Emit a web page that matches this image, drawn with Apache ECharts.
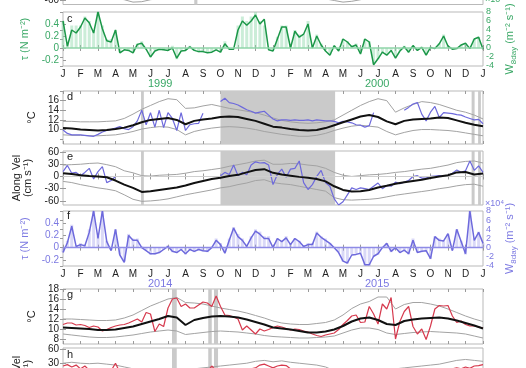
<!DOCTYPE html>
<html><head><meta charset="utf-8">
<script src="https://cdn.jsdelivr.net/npm/echarts@6/dist/echarts.min.js"></script>
<style>html,body{margin:0;padding:0;background:#fff}#c{width:526px;height:368px}</style>
</head><body><div id="c"></div>
<script>
// ---------- axis categories / labels ----------
const monthLabels = ['J','F','M','A','M','J','J','A','S','O','N','D','J','F','M','A','M','J','J','A','S','O','N','D','J'];
const topYears = ['1999','2000'];
const bottomYears = ['2014','2015'];
const yearLabelPos = [5.55, 17.95];
const STEP_FINE = 0.25;   // months between samples of the noisy series
const STEP_SMOOTH = 0.5;  // months between samples of the smooth series

// ---------- panel c (1999-2000 wind stress, W8day) ----------
const cTau = [0.45,0.03,0.30,0.25,0.35,0.50,0.42,0.25,0.60,0.32,
 0.12,0.10,0.30,-0.08,-0.03,-0.04,-0.08,0.06,0.08,-0.02,
 -0.15,-0.05,-0.02,-0.03,-0.04,0.00,-0.17,-0.05,-0.04,0.02,
 -0.04,-0.06,-0.06,-0.08,-0.07,-0.03,-0.07,0.07,-0.02,-0.02,
 0.30,0.45,0.38,0.45,0.55,0.40,0.48,
 -0.03,-0.05,0.15,0.35,0.35,0.00,0.28,0.18,0.23,0.40,
 0.00,0.20,0.05,-0.05,-0.12,0.04,-0.05,0.15,0.10,0.02,
 0.05,-0.10,0.15,0.10,-0.28,-0.18,-0.07,-0.12,-0.04,-0.17,
 -0.05,0.02,-0.07,0.04,-0.04,0.01,-0.12,0.01,-0.01,0.07,
 0.20,0.03,-0.02,-0.01,0.05,0.08,-0.01,0.15,0.18,-0.02];
const cW = [6,1,5,5,5,7,6,4,8,5,
 2,2,4,-1,0,-0.5,-1,1,1.5,0,
 -2,-0.5,0,-0.5,-0.5,0.5,-2.5,-0.5,-0.5,0.5,
 -0.5,-1,-1,-1,-1,-0.5,-1,1.5,0,0,
 5,7,6,7,8,6,5,
 0,-0.5,2.5,5,5,0.5,4,3,3,6,
 0.5,3,1,-0.5,-1.5,0.5,-0.5,2,1.5,0.5,
 1,-1,2,1.5,-3.5,-2.5,-1,-1.5,-0.5,-2,
 -0.5,0.5,-1,0.5,-0.5,0.3,-1.5,0.3,0,1,
 3,0.5,-0.3,0,0.8,1,0,2,2.5,0];

// ---------- panel d (1999-2000 temperature) ----------
const dObs = [9.9,9.2,8.9,8.9,8.9,8.8,8.7,8.6,9.0,9.5,
 9.8,10.0,10.3,10.6,10.2,10.0,10.6,11.8,14.0,11.0,
 13.5,10.5,14.0,10.4,13.5,12.3,9.8,13.5,9.8,11.0,
 11.2,11.3,13.4,null,null,null,15.8,16.5,15.6,15.4,
 15.1,14.6,14.1,13.8,13.4,13.6,13.8,13.0,12.2,11.8,
 12.0,12.0,11.9,12.0,11.9,11.9,12.0,11.8,12.0,11.9,
 11.8,11.8,11.7,11.4,11.7,11.6,11.4,11.0,10.9,10.5,
 10.8,13.5,null,null,null,null,null,null,14.0,14.6,
 15.3,15.6,13.2,11.8,13.6,14.8,12.5,13.5,13.4,13.3,
 13.1,13.0,12.6,12.3,12.0,12.1,11.2];
const dMean = [10.3,10.2,10.0,9.9,9.8,9.9,10.1,10.4,10.9,11.5,
 12.0,12.2,12.4,12.0,11.1,11.8,12.1,12.3,12.6,12.7,
 12.6,12.2,11.8,11.2,10.6,10.4,10.1,9.9,9.8,9.9,
 10.3,10.9,11.5,12.1,12.7,13.0,12.6,11.7,11.1,11.8,
 12.1,12.2,12.3,12.5,12.4,11.9,11.4,11.0,10.7];
const dHigh = [11.7,11.7,11.6,11.6,11.6,11.7,11.8,12.3,13.2,14.2,
 15.0,15.8,16.4,16.2,14.4,14.5,14.9,15.2,14.8,14.4,
 14.1,13.8,13.5,13.0,12.4,11.9,11.6,11.4,11.3,11.4,
 11.6,12.0,13.0,14.0,15.0,15.8,16.4,16.0,13.6,14.5,
 15.2,15.8,15.6,15.2,14.6,14.0,13.6,13.0,12.2];
const dLow = [8.9,8.8,8.8,8.7,8.7,8.8,8.9,9.2,9.6,10.1,
 10.4,10.6,10.5,10.0,8.9,9.6,10.0,10.3,10.5,10.6,
 10.5,10.3,10.0,9.6,9.3,9.0,8.8,8.6,8.6,8.8,
 9.2,9.8,10.3,10.7,10.9,10.7,10.5,9.6,8.9,9.4,
 9.8,10.0,10.0,9.9,9.8,9.6,9.3,9.0,8.7];

// ---------- panel e (1999-2000 along-shelf velocity) ----------
const eObs = [12,27,8,10,2,10,20,-6,12,24,-15,-10,0,
 null,null,null,null,null,null,null,null,null,null,
 null,null,null,null,null,null,null,null,null,null,null,null,null,
 2,10,5,28,2,10,4,28,36,33,34,28,-20,
 5,18,-2,18,20,38,-15,-32,-20,0,
 15,-15,-24,-55,-70,-62,-45,-28,-32,-28,
 -30,-32,-24,-16,-30,-22,-24,-14,-18,-14,
 -10,0,2,-4,-4,0,1,2,0,3,
 8,16,10,14,38,15,26,10];
const eMean = [8,6,3,1,0,-2,-10,-20,-28,-38,
 -36,-33,-30,-27,-22,-16,-11,-6,-3,1,
 4,10,16,18,9,5,2,-1,-3,-6,
 -12,-24,-33,-37,-36,-33,-27,-23,-18,-14,
 -11,-8,-4,0,3,10,11,5,7];
const eHigh = [28,29,30,32,33,29,24,14,9,2,
 1,3,4,5,8,12,14,17,20,25,
 29,33,38,40,30,30,32,31,28,26,
 20,10,3,0,2,4,5,7,10,12,
 15,18,20,24,28,34,37,38,33];
const eLow = [-12,-15,-20,-24,-28,-31,-35,-45,-56,-61,
 -60,-58,-55,-50,-45,-41,-37,-33,-28,-25,
 -20,-16,-10,-8,-15,-18,-20,-24,-28,-32,
 -36,-52,-57,-58,-57,-56,-54,-50,-46,-43,
 -40,-37,-34,-30,-27,-23,-20,-19,-24];

// ---------- panel f (2014-2015 wind stress, W8day) ----------
const fTau = [-0.08,0.08,0.35,0.02,0.05,0.03,0.25,0.60,0.15,0.60,
 0.10,-0.05,0.30,-0.12,-0.24,0.20,0.12,0.12,0.00,-0.05,
 -0.10,-0.10,-0.08,-0.03,0.02,-0.06,-0.08,-0.03,-0.10,-0.03,
 -0.06,-0.03,-0.05,-0.06,0.00,0.12,0.05,-0.09,0.12,0.32,
 0.18,0.12,0.02,0.16,0.27,0.22,0.15,0.15,0.00,0.15,
 0.10,0.16,0.05,0.15,0.10,0.02,0.05,0.05,0.24,0.17,
 0.12,0.07,0.00,-0.08,-0.22,-0.25,-0.12,-0.11,-0.09,-0.28,
 -0.28,-0.14,-0.10,0.00,0.07,-0.06,0.00,-0.08,-0.04,-0.10,
 0.12,-0.08,-0.06,-0.05,-0.18,0.18,0.12,0.11,0.23,-0.05,
 0.30,0.10,-0.10,0.60,0.12,0.25,0.07];
const fW = [-1,1.5,5,0.5,1,0.5,4,8,2.5,8,
 1.5,-0.5,4,-1.5,-3,3,2,2,0.3,-0.5,
 -1.5,-1.5,-1,-0.5,0.5,-1,-1,-0.5,-1.5,-0.5,
 -1,-0.5,-0.8,-1,0.2,2,1,-1,2,4.5,
 3,2,0.5,2.5,4,3.5,2.5,2.5,0.2,2,
 1.5,2.5,1,2,1.5,0.5,1,1,3.5,2.5,
 2,1,0.2,-1,-3,-3.5,-1.5,-1.5,-1.2,-4,
 -4,-2,-1.5,0.2,1,-1,0.2,-1,-0.5,-1.5,
 2,-1,-1,-0.8,-2.5,2.5,2,1.5,3,-0.5,
 4,1.5,-1.5,8,2,3.5,1];

// ---------- panel g (2014-2015 temperature) ----------
const gObs = [10.9,11.2,11.2,10.8,10.9,10.7,10.3,10.6,10.4,9.6,
 9.9,10.3,10.6,10.8,10.9,11.2,11.6,12.0,11.4,13.3,
 13.0,9.5,11.0,10.5,14.2,16.0,16.2,14.5,15.0,14.2,
 14.2,14.8,15.4,15.2,14.5,16.6,14.5,12.8,12.7,12.4,
 12.0,9.8,10.6,9.8,9.0,10.0,9.6,9.9,10.3,10.6,
 10.4,10.1,9.8,10.0,9.9,9.6,9.4,9.0,8.7,8.5,
 8.8,9.0,9.2,9.9,10.9,11.7,12.6,12.8,11.3,11.4,
 14.5,13.0,11.0,15.0,14.0,16.3,8.0,11.5,13.5,14.5,
 10.5,9.0,10.0,7.9,10.6,14.0,14.7,14.6,14.7,12.6,
 11.3,11.6,10.9,10.6,10.6,10.4,10.2];
const gMean = [10.3,10.2,10.1,10.0,9.8,9.8,9.9,10.2,10.5,11.0,
 11.5,12.0,12.6,12.3,10.8,11.8,12.2,12.5,12.6,12.5,
 12.3,11.9,11.4,10.9,
 10.3,10.1,9.9,9.6,9.3,9.3,9.5,9.9,10.6,11.5,
 12.1,12.3,11.8,11.0,10.8,11.6,11.9,12.1,12.2,12.3,
 12.1,11.7,11.2,10.7,10.1];
const gHigh = [12.0,12.0,11.9,11.8,11.7,11.7,11.8,12.2,12.8,13.7,
 14.6,15.3,16.0,16.3,15.3,15.2,15.0,14.6,14.2,13.9,
 13.6,13.2,12.7,12.2,
 11.6,11.2,11.0,10.9,10.9,11.1,11.3,11.8,12.8,14.1,
 15.0,15.5,16.4,16.4,14.0,14.9,15.3,15.3,15.0,14.6,
 14.0,13.3,12.6,12.0,11.5];
const gLow = [9.0,8.8,8.6,8.4,8.3,8.3,8.4,8.6,8.8,9.1,
 9.4,9.6,9.8,9.6,8.9,9.1,9.3,9.5,9.6,9.5,
 9.4,9.2,9.0,8.7,
 8.5,8.4,8.3,8.2,8.2,8.3,8.4,8.6,9.2,9.8,
 10.2,10.2,9.9,9.2,8.9,9.1,9.3,9.4,9.5,9.4,
 9.3,9.2,9.0,8.6,8.2];

// ---------- panel h (2014-2015 velocity, mostly below the picture) ----------
const hObs = [24,27,22,26,18,24,15,10,12,5,
 8,14,30,10,5,0,-5,-10,-15,-8,
 -12,-20,-18,-10,-15,-8,-5,-12,-10,-6,
 -2,5,8,12,24,14,10,8,12,15,
 18,15,12,18,20,26,28,24,20,24,
 26,25,18,12,15,10,5,0,-5,-10,
 -15,-20,-30,-35,-40,-35,-30,-28,-25,-28,
 -30,-25,-20,-22,-18,-15,-12,-10,-8,-5,
 -2,0,2,5,8,10,12,14,16,18,
 20,18,22,19,24,25,27];
const hHigh = [30,32,30,29,30,28,26,22,18,14,
 12,12,12,14,16,18,20,22,24,26,
 28,30,34,36,33,35,32,30,28,26,
 22,14,10,8,10,12,14,16,18,20,
 22,24,26,28,32,36,38,36,34];

// ---------- panel b (mostly above the picture) ----------
const bLow = [-45,-46,-48,-50,-50,-52,-54,-58,-64,-63,
 -58,-55,-52,-50,-48,-46,-44,-42,-40,-40,
 -40,-42,-44,-46,-48,-50,-50,-52,-52,-54,
 -56,-60,-64,-62,-58,-54,-50,-48,-46,-44,
 -42,-42,-44,-46,-48,-50,-52,-54,-55];

// ---------- shaded periods (months from start) ----------
const shadeUpper = [[4.46,4.62],[9.0,15.55],[23.35,23.52],[23.72,23.88]];
const shadeLower = [[6.23,6.5],[8.3,8.5],[8.63,8.86]];
const shadeB = [[7.5,7.68]];

// ---------- styling ----------
const FONT = 'Liberation Sans, Arial, Helvetica, sans-serif';
const TICK = '#9a9a9a';
const BOX = '#b9b9b9';
const GREEN_LINE = '#1b9748', GREEN_LAB = '#3aa866', GREEN_ZERO = '#8fd5a8', GREEN_BAR = 'rgba(140,215,168,0.45)';
const BLUE_LINE = '#6d69dc', BLUE_LAB = '#7c79e2', BLUE_ZERO = '#8e8be6', BLUE_BAR = 'rgba(160,158,235,0.4)';
const RED = '#d6394d', GRAY = '#a3a3a3', SHADE = '#cacaca', DARK = '#222';

const panels = [
  {key:'b', top:-48.5, height:53},
  {key:'c', top:12, height:54},
  {key:'d', top:91, height:53},
  {key:'e', top:151, height:54},
  {key:'f', top:211, height:55},
  {key:'g', top:289, height:55},
  {key:'h', top:348, height:62}
];
const grids = panels.map(p => ({left:63, width:420, top:p.top, height:p.height, show:true,
  borderColor:BOX, borderWidth:1, backgroundColor:'transparent',
  containLabel:false, outerBoundsMode:'none'}));

// x axes: bottom + top for every panel, then the two year rows
const xAxes = [];
panels.forEach((p, gi) => {
  const showLab = p.key === 'c' || p.key === 'f';
  xAxes.push({type:'value', gridIndex:gi, min:0, max:24, interval:1, position:'bottom',
    axisLine:{show:false}, splitLine:{show:false},
    axisTick:{show:true, inside:true, length:3, lineStyle:{color:TICK}},
    axisLabel:{show:showLab, margin:3, fontSize:10, color:DARK, fontFamily:FONT,
      formatter:v => monthLabels[Math.round(v)]}});
  xAxes.push({type:'value', gridIndex:gi, min:0, max:24, interval:1, position:'top',
    axisLine:{show:false}, splitLine:{show:false},
    axisTick:{show:true, inside:true, length:3, lineStyle:{color:TICK}},
    axisLabel:{show:false}});
});
function yearAxis(gi, years, color) {
  return {type:'value', gridIndex:gi, min:0, max:24, position:'bottom', offset:9,
    axisLine:{show:false}, axisTick:{show:false}, splitLine:{show:false},
    axisLabel:{customValues:yearLabelPos, margin:3, fontSize:11, color:color, fontFamily:FONT,
      formatter:v => v < 12 ? years[0] : years[1]}};
}
xAxes.push(yearAxis(1, topYears, GREEN_LAB));
xAxes.push(yearAxis(4, bottomYears, BLUE_LAB));

// y axes: left (data) + right (second axis or tick mirror)
const velTicks = [-60,-30,0,30,60];
const tempTicks = [8,10,12,14,16,18];
const tauTicks = [-0.2,0,0.2,0.4];
const wTicks = [-4,-2,0,2,4,6,8];
function leftY(gi, min, max, ticks, color, name, gap, nameColor) {
  return {type:'value', gridIndex:gi, min, max, position:'left',
    axisLine:{show:false}, splitLine:{show:false},
    axisTick:{show:true, inside:true, length:3, customValues:ticks, lineStyle:{color:TICK}},
    axisLabel:{customValues:ticks, fontSize:10, margin:4, color, fontFamily:FONT},
    name, nameLocation:'middle', nameGap:gap, nameRotate:90,
    nameTextStyle:{fontSize:11, color:nameColor || DARK, fontFamily:FONT, lineHeight:11}};
}
function mirrorY(gi, min, max, ticks) {
  return {type:'value', gridIndex:gi, min, max, position:'right',
    axisLine:{show:false}, splitLine:{show:false},
    axisTick:{show:true, inside:true, length:3, customValues:ticks, lineStyle:{color:TICK}},
    axisLabel:{show:false}};
}
function wAxis(gi, color) {
  return {type:'value', gridIndex:gi, min:-4, max:8, position:'right',
    axisLine:{show:false}, splitLine:{show:false},
    axisTick:{show:true, inside:true, length:3, customValues:wTicks, lineStyle:{color:TICK}},
    axisLabel:{customValues:wTicks, fontSize:9, margin:3, color, fontFamily:FONT},
    name:'{w|W}{s|8day}{w| (m⁻² s⁻¹)}', nameLocation:'middle', nameGap:16, nameRotate:90,
    nameTextStyle:{rich:{
      w:{fontSize:11, color, fontFamily:FONT, lineHeight:14},
      s:{fontSize:8, color, fontFamily:FONT, lineHeight:8, verticalAlign:'bottom'}}}};
}
const yAxes = [
  leftY(0, -70, 62.5, velTicks, DARK, '', 30), mirrorY(0, -70, 62.5, velTicks),
  leftY(1, -0.3, 0.6, tauTicks, GREEN_LAB, 'τ (N m⁻²)', 22, GREEN_LAB), wAxis(1, GREEN_LAB),
  leftY(2, 7, 18, tempTicks, DARK, '°C', 16), mirrorY(2, 7, 18, tempTicks),
  leftY(3, -70, 62.5, velTicks, DARK, 'Along Vel\n(cm s⁻¹)', 26), mirrorY(3, -70, 62.5, velTicks),
  leftY(4, -0.3, 0.6, tauTicks, BLUE_LAB, 'τ (N m⁻²)', 22, BLUE_LAB), wAxis(4, BLUE_LAB),
  leftY(5, 7, 18, tempTicks, DARK, '°C', 16), mirrorY(5, 7, 18, tempTicks),
  leftY(6, -70, 62.5, velTicks, DARK, 'Along Vel\n(cm s⁻¹)', 26), mirrorY(6, -70, 62.5, velTicks)
];

// ---------- series builders ----------
function toPts(arr, step) { return arr.map((v, i) => [i * step, v]); }
function line(gi, arr, step, color, width, z) {
  return {type:'line', xAxisIndex:gi*2, yAxisIndex:gi*2, data:toPts(arr, step),
    showSymbol:false, symbol:'none', silent:true, clip:true, connectNulls:false,
    lineStyle:{color, width}, z, animation:false};
}
function bars(gi, arr, step, color) {
  return {type:'bar', xAxisIndex:gi*2, yAxisIndex:gi*2+1, data:toPts(arr, step),
    barWidth:3, itemStyle:{color}, silent:true, z:2, animation:false};
}
function shade(gi, spans) {
  return {type:'line', xAxisIndex:gi*2, yAxisIndex:gi*2, data:[], z:1, silent:true,
    markArea:{silent:true, itemStyle:{color:SHADE}, data:spans.map(s => [{xAxis:s[0]}, {xAxis:s[1]}])}};
}
function zero(gi, color, width) {
  return {type:'line', xAxisIndex:gi*2, yAxisIndex:gi*2, data:[], z:2, silent:true,
    markLine:{silent:true, symbol:['none','none'], label:{show:false}, animation:false,
      lineStyle:{color, width, type:'solid'}, data:[{yAxis:0}]}};
}

const series = [
  // b
  shade(0, shadeB), line(0, bLow, STEP_SMOOTH, GRAY, 1, 3),
  // c
  zero(1, GREEN_ZERO, 1.5), bars(1, cW, STEP_FINE, GREEN_BAR), line(1, cTau, STEP_FINE, GREEN_LINE, 1.5, 4),
  // d
  shade(2, shadeUpper),
  line(2, dHigh, STEP_SMOOTH, GRAY, 1, 3), line(2, dLow, STEP_SMOOTH, GRAY, 1, 3),
  line(2, dObs, STEP_FINE, BLUE_LINE, 1.2, 4), line(2, dMean, STEP_SMOOTH, '#111', 2, 5),
  // e
  shade(3, shadeUpper), zero(3, '#cfcfcf', 1),
  line(3, eHigh, STEP_SMOOTH, GRAY, 1, 3), line(3, eLow, STEP_SMOOTH, GRAY, 1, 3),
  line(3, eObs, STEP_FINE, BLUE_LINE, 1.2, 4), line(3, eMean, STEP_SMOOTH, '#111', 2, 5),
  // f
  zero(4, BLUE_ZERO, 1.3), bars(4, fW, STEP_FINE, BLUE_BAR), line(4, fTau, STEP_FINE, BLUE_LINE, 1.5, 4),
  // g
  shade(5, shadeLower),
  line(5, gHigh, STEP_SMOOTH, GRAY, 1, 3), line(5, gLow, STEP_SMOOTH, GRAY, 1, 3),
  line(5, gObs, STEP_FINE, RED, 1.2, 4), line(5, gMean, STEP_SMOOTH, '#111', 2, 5),
  // h
  shade(6, shadeLower), line(6, hHigh, STEP_SMOOTH, GRAY, 1, 3), line(6, hObs, STEP_FINE, RED, 1.2, 4)
];

// panel letters and the x10^4 multipliers
const letters = [['c',13],['d',91],['e',151],['f',210],['g',289],['h',349]];
const graphic = letters.map(l => ({type:'text', x:67, y:l[1], silent:true,
  style:{text:l[0], fontSize:11, fontFamily:FONT, fill:DARK, verticalAlign:'top'}}));
graphic.push({type:'text', x:485, y:-5, silent:true, style:{text:'×10⁴', fontSize:9, fontFamily:FONT, fill:GREEN_LAB, verticalAlign:'top'}});
graphic.push({type:'text', x:485, y:199, silent:true, style:{text:'×10⁴', fontSize:9, fontFamily:FONT, fill:BLUE_LAB, verticalAlign:'top'}});

const chart = echarts.init(document.getElementById('c'), null, {renderer:'canvas', width:526, height:368});
chart.setOption({
  animation:false,
  backgroundColor:'#fff',
  textStyle:{fontFamily:FONT},
  grid:grids, xAxis:xAxes, yAxis:yAxes, series, graphic
});
</script></body></html>
